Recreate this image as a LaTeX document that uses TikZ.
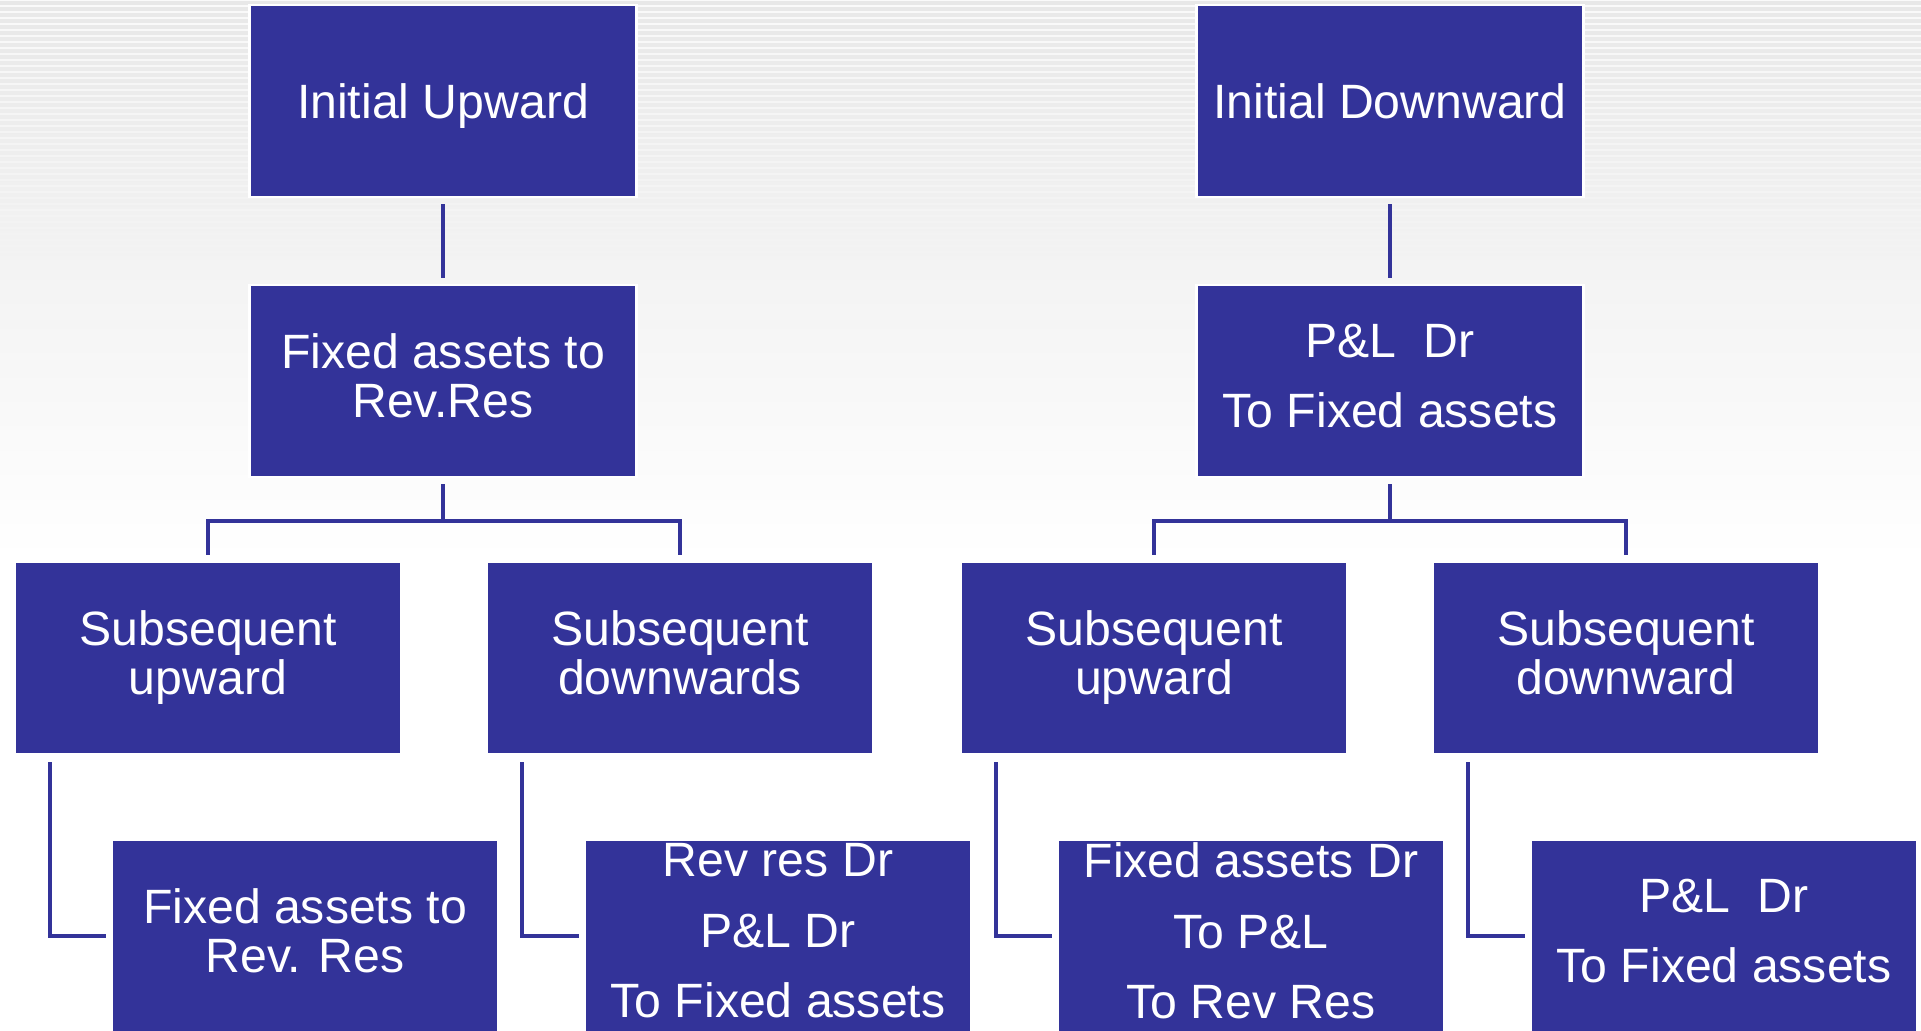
\documentclass[tikz,border=0pt]{standalone}
\usepackage{fontspec}
\setmainfont{Liberation Sans}
\usepackage{xcolor}
\definecolor{boxblue}{HTML}{333399}
\usepackage{tikz}

\tikzset{
  box/.style={rectangle, fill=boxblue, draw=white, line width=0.8pt,
    minimum width=3.87cm, minimum height=1.92cm, inner sep=0pt,
    text=white, align=center, font=\fontsize{13.7pt}{14pt}\selectfont,
    execute at begin node={\rule{0pt}{13pt}},
    execute at end node={\rule[-3pt]{0pt}{3pt}}},
  link/.style={draw=boxblue, line width=1.2pt},
}

\begin{document}
\begin{tikzpicture}[x=0.01cm, y=-0.01cm]
    \useasboundingbox (0,0) rectangle (1921,1030);
    \clip (0,0) rectangle (1921,1030);

    % background
    \shade[top color=black!9, bottom color=white] (0,0) rectangle (1921,560);
    \foreach \i in {0,...,45} {
        \pgfmathsetmacro\op{0.8-\i/60}
        \draw[white, line width=0.6pt, opacity=\op] (0,\i*6) -- (1921,\i*6);
    }

    \node[box] (iu) at (443, 101) {Initial Upward};
    \node[box] (id) at (1390, 101) {Initial Downward};

    \node[box] (fa) at (443, 381) {Fixed assets to\\Rev.Res};
    \node[box] (pl) at (1390, 381) {P\&L~~Dr\\[6pt]To Fixed assets};

    \node[box] (su1) at (208, 658) {Subsequent\\upward};
    \node[box] (sd1) at (680, 658) {Subsequent\\downwards};
    \node[box] (su2) at (1154, 658) {Subsequent\\upward};
    \node[box] (sd2) at (1626, 658) {Subsequent\\downward};

    \node[box] (e1) at (305, 936) {Fixed assets to\\Rev. Res};
    \node[box] (e2) at (778, 936) {Rev res Dr\\[6pt]P\&L Dr\\[6pt]To Fixed assets};
    \node[box] (e3) at (1251, 936) {Fixed assets Dr\\[6pt]To P\&L\\[6pt]To Rev Res};
    \node[box] (e4) at (1724, 936) {P\&L~~Dr\\[6pt]To Fixed assets};

    \coordinate (jl) at (443, 521);
    \coordinate (jr) at (1390, 521);

    \draw[link, shorten <=0.06cm, shorten >=0.06cm] (iu) -- (fa);
    \draw[link, shorten <=0.06cm, shorten >=0.06cm] (id) -- (pl);

    \draw[link, shorten <=0.06cm] (fa.south) -- (jl);
    \draw[link, shorten <=0.06cm, shorten >=0.06cm] (su1.north) |- (jl) -| (sd1.north);
    \draw[link, shorten <=0.06cm] (pl.south) -- (jr);
    \draw[link, shorten <=0.06cm, shorten >=0.06cm] (su2.north) |- (jr) -| (sd2.north);

    \draw[link, shorten <=0.07cm, shorten >=0.04cm] ([xshift=0.37cm]su1.south west) |- (e1.west);
    \draw[link, shorten <=0.07cm, shorten >=0.04cm] ([xshift=0.37cm]sd1.south west) |- (e2.west);
    \draw[link, shorten <=0.07cm, shorten >=0.04cm] ([xshift=0.37cm]su2.south west) |- (e3.west);
    \draw[link, shorten <=0.07cm, shorten >=0.04cm] ([xshift=0.37cm]sd2.south west) |- (e4.west);
\end{tikzpicture}
\end{document}
